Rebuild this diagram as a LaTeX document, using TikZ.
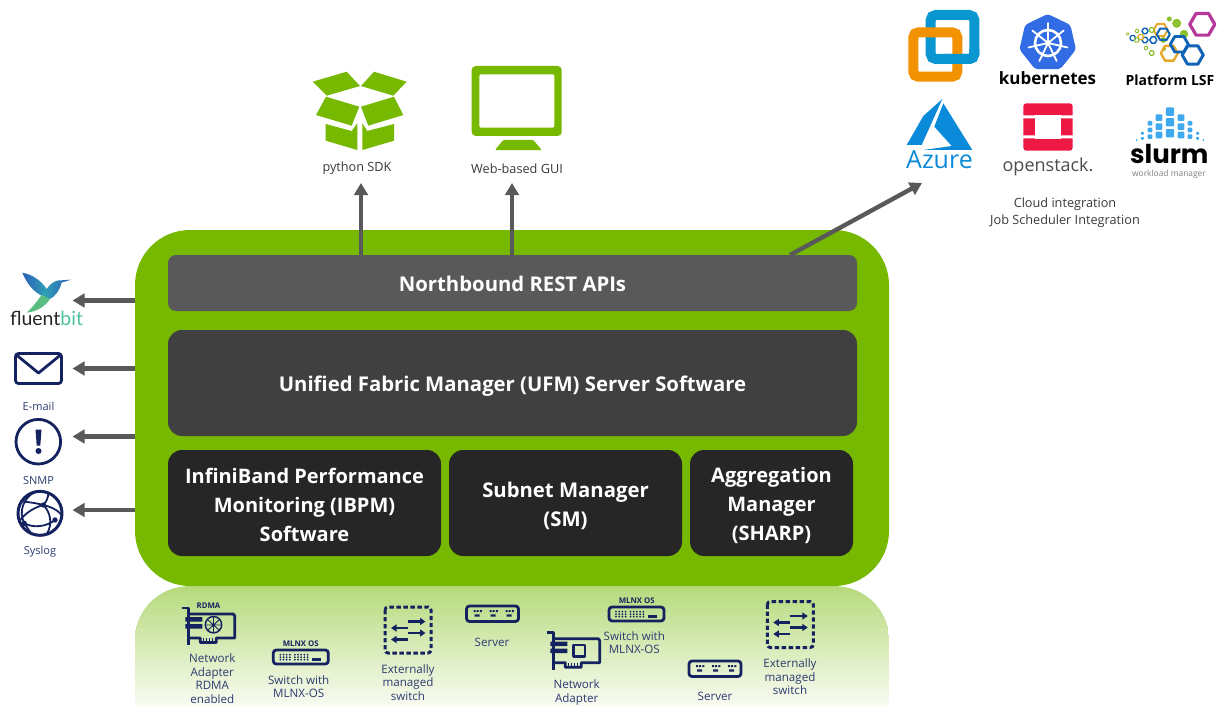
\documentclass[tikz,border=0pt]{standalone}
\usepackage{fontspec}
\setmainfont{Open Sans}
\newfontfamily\lato{Lato}
\newfontfamily\pop{Poppins}
\usetikzlibrary{arrows.meta,calc}
\definecolor{nvgreen}{HTML}{76B900}
\definecolor{trayA}{HTML}{B6DA7C}
\definecolor{trayB}{HTML}{F8FBF1}
\definecolor{apigray}{HTML}{595959}
\definecolor{ufmgray}{HTML}{404040}
\definecolor{lowgray}{HTML}{262626}
\definecolor{navy}{HTML}{14235F}
\definecolor{navytxt}{HTML}{2C3A70}
\definecolor{txtgray}{HTML}{3A3A3A}
\definecolor{slblue}{HTML}{3FA9EE}
\definecolor{azblue}{HTML}{0A8AD8}
\definecolor{vmblue}{HTML}{0A96D0}
\definecolor{vmorange}{HTML}{F39200}
\definecolor{k8sblue}{HTML}{326CE5}
\definecolor{osred}{HTML}{ED1944}
\definecolor{lsfmag}{HTML}{B5379A}
\definecolor{lsfblue}{HTML}{0F62B5}
\definecolor{lsfgold}{HTML}{E8A92B}
\definecolor{lsfgreen}{HTML}{8DBF2E}
\definecolor{birdblue}{HTML}{2E5FB8}
\definecolor{birdteal}{HTML}{2FA3B5}
\definecolor{birdgreen}{HTML}{6CC96C}
\definecolor{bitteal}{HTML}{4FC3A1}
\tikzset{
  panelbox/.style={rounded corners=#1,inner sep=0pt},
  paneltext/.style={align=center,text=white,inner sep=0pt,font=\fontsize{20.3}{29}\selectfont\bfseries},
  arr/.style={draw=apigray,line width=4.4pt,-{Triangle[length=12pt,width=13.5pt]}},
  lowlabel/.style={text=navytxt,align=center,inner sep=0pt,font=\fontsize{11.6}{13.4}\selectfont},
  toplabel/.style={text=txtgray,align=center,inner sep=0pt,font=\fontsize{12.7}{17}\selectfont},
  icon/.style={draw=navy,line width=2.8pt,line join=round},
  tinytag/.style={text=navy,inner sep=0pt,font=\fontsize{7.8}{8}\selectfont\bfseries},
  xarrow/.style={draw=navy,line width=2.4pt,-{Triangle[length=5.5pt,width=7pt]}}
}
\newcommand\hexa[5]{\draw[draw=#4,line width=#5,line join=round] (#1,#2) +(0:#3) -- +(60:#3) -- +(120:#3) -- +(180:#3) -- +(240:#3) -- +(300:#3) -- cycle;}
\newcommand\swicon[2]{\begin{scope}[shift={(#1,#2)}]
  \draw[icon,rounded corners=3pt] (0,0) rectangle (55,14);
  \foreach \dx in {7,10.2,13.4,16.6,21.5,24.7,27.9,31.1,34.3}{\fill[navy] (\dx,4.7) circle (1) (\dx,7.2) circle (1) (\dx,9.7) circle (1);}
  \fill[navy] (39,8) rectangle (48,10.5);
\end{scope}}
\newcommand\svicon[2]{\begin{scope}[shift={(#1,#2)}]
  \draw[icon,rounded corners=3pt] (0,0) rectangle (52,15.5);
  \foreach \dx in {7,23,39}{\fill[navy] (\dx,4) rectangle +(2,2.2) (\dx+3.2,4) rectangle +(2,2.2) (\dx+6.4,4) rectangle +(2,2.2) (\dx+1,8.3) rectangle +(5,2.2);}
\end{scope}}
\newcommand\exicon[2]{\begin{scope}[shift={(#1,#2)}]
  \draw[icon,line width=3pt,rounded corners=3pt,dash pattern=on 4.4pt off 2.6pt] (0,0) rectangle (46,46);
  \draw[xarrow] (23,14.5) -- (40.5,14.5);
  \draw[xarrow] (23,21) -- (6,21);
  \draw[xarrow] (23,26) -- (40.5,26);
  \draw[xarrow] (23,32.5) -- (6,32.5);
\end{scope}}
\newcommand\cardicon[2]{\begin{scope}[shift={(#1,#2)}]
  \draw[icon] (-6.5,0) -- (0,0) -- (0,37);
  \draw[icon] (0,6) -- (45,6) -- (46.5,8) -- (46.5,30) -- (28,30) -- (28,34.5) -- (12,34.5) -- (12,30) -- (0,30);
  \fill[navy] (-3,9) rectangle (14,13.5) (-3,16) rectangle (14,20.5);
  \foreach \dx in {15,18,21,24}{\draw[navy,line width=1.2pt] (\dx,30) -- (\dx,34);}
\end{scope}}
\begin{document}
\begin{tikzpicture}[x=1pt,y=-1pt]
\useasboundingbox (0,0) rectangle (1223,706);
\fill[white] (0,0) rectangle (1223,706);
% fading tray: stacked bands, each running to the bottom edge
\begin{scope}
\clip (135,706) -- (135,641) .. controls (135,610.6) and (159.6,586) .. (190,586) -- (834,586) .. controls (864.4,586) and (889,610.6) .. (889,641) -- (889,706) -- cycle;
\foreach \i in {0,...,59}{
  \pgfmathsetmacro\mixp{100-\i*100/59}
  \fill[trayA!\mixp!trayB] (135,586+2*\i) rectangle (889,706);
}
\end{scope}
% main panel
\node[panelbox=55pt,fill=nvgreen,minimum width=754pt,minimum height=356pt] (panel) at (512,408) {};
\node[panelbox=8pt,fill=apigray,minimum width=689pt,minimum height=56pt,
  label={[paneltext,name=apitext,yshift=-1pt]center:Northbound REST APIs}] (api) at (512.5,283) {};
\node[panelbox=14pt,fill=ufmgray,minimum width=689pt,minimum height=106pt,
  label={[paneltext,name=ufmtext,yshift=-3.5pt]center:Unified Fabric Manager (UFM) Server Software}] (ufm) at (512.5,383) {};
\node[panelbox=14pt,fill=lowgray,minimum width=273pt,minimum height=106pt,
  label={[paneltext,name=ibpmtext,yshift=-2pt,font=\fontsize{20}{29}\selectfont\bfseries]center:InfiniBand Performance\\Monitoring (IBPM)\\Software}] (ibpm) at (304.5,503) {};
\node[panelbox=14pt,fill=lowgray,minimum width=233pt,minimum height=106pt,
  label={[paneltext,name=smtext,yshift=-2.5pt]center:Subnet Manager\\(SM)}] (sm) at (565.5,503) {};
\node[panelbox=14pt,fill=lowgray,minimum width=163pt,minimum height=106pt,
  label={[paneltext,name=aggtext,yshift=-2pt,font=\fontsize{20}{29}\selectfont\bfseries]center:Aggregation\\Manager\\(SHARP)}] (agg) at (771.5,503) {};
% arrow ends
\coordinate (pyend) at (361,183);
\coordinate (webend) at (512,183);
\coordinate (cloudend) at (922,183);
\coordinate (apiright) at (790,255);
\coordinate (fluentend) at (72.5,300.5);
\coordinate (mailend) at (72.5,368.5);
\coordinate (snmpend) at (72.5,436.5);
\coordinate (sysend) at (72.5,510);
\draw[arr] (api.north -| pyend) -- (pyend);
\draw[arr] (api.north -| webend) -- (webend);
\draw[arr] (apiright) -- (cloudend);
\draw[arr] (panel.west |- fluentend) -- (fluentend);
\draw[arr] (panel.west |- mailend) -- (mailend);
\draw[arr] (panel.west |- snmpend) -- (snmpend);
\draw[arr] (panel.west |- sysend) -- (sysend);
% python box
\fill[nvgreen] (312.7,81.7) -- (346.7,71.7) -- (360,86) -- (326.7,95.7) -- cycle;
\fill[nvgreen] (361,86) -- (374,71.7) -- (406.7,81.7) -- (393.3,95.7) -- cycle;
\fill[nvgreen] (326,96.7) -- (359.3,106.7) -- (351.7,125.7) -- (316,115) -- cycle;
\fill[nvgreen] (361,106.7) -- (394,96.7) -- (403.3,115) -- (368.3,125.7) -- cycle;
\fill[nvgreen] (325.7,124) -- (351.7,131) -- (357.3,123.3) -- (357.3,150) -- (325.7,140.7) -- cycle;
\fill[nvgreen] (362.3,123.3) -- (367.3,131) -- (394,124) -- (394,140.7) -- (362.3,150) -- cycle;
\node[toplabel] (pylabel) at (357,168.5) {python SDK};
% monitor
\fill[nvgreen,rounded corners=4pt] (471.7,66) rectangle (561.7,136);
\fill[white,rounded corners=1.5pt] (479.3,74.3) rectangle (554.3,127.7);
\fill[nvgreen,rounded corners=1pt] (495,150) -- (503.3,140) -- (533.3,140) -- (541.7,150) -- cycle;
\node[toplabel] (weblabel) at (517,168.5) {Web-based GUI};
% vmware
\draw[draw=vmblue,line width=10pt,rounded corners=5pt] (930.7,15) rectangle (974.3,59);
\draw[draw=vmorange,line width=10pt,rounded corners=5pt] (913.3,32.3) rectangle (957.3,76.7);
\begin{scope}
\clip (945,50) rectangle (985,70);
\draw[draw=vmblue,line width=10pt,rounded corners=5pt] (930.7,15) rectangle (974.3,59);
\end{scope}
% kubernetes
\fill[k8sblue,rounded corners=3pt] (1047.7,43) +(-90:29) -- +(-38.6:29) -- +(12.9:29) -- +(64.3:29) -- +(115.7:29) -- +(167.1:29) -- +(218.6:29) -- cycle;
\draw[white,line width=2.6pt] (1048,43) circle (13);
\fill[white] (1048,43) circle (2.8);
\foreach \a in {-90,-38.6,12.9,64.3,115.7,167.1,218.6}{\draw[white,line width=1.8pt,line cap=round] (1048,43) -- +(\a:20);}
\node[inner sep=0pt,text=black,font=\fontsize{17}{20}\selectfont\bfseries] (k8s) at (1047.5,78) {kubernetes};
% LSF
\hexa{1202.3}{24.3}{12.5}{lsfmag}{3.2pt}
\fill[lsfgreen] (1176.7,23.3) circle (4.5) (1169.3,19) circle (2.5) (1184,34) circle (4.2) (1163.3,40) circle (3) (1164,49) circle (2);
\hexa{1160.7}{30}{7}{lsfgold}{2pt}
\hexa{1163.3}{34.3}{6.5}{lsfblue}{2pt}
\hexa{1169.3}{53.3}{8.5}{lsfgold}{2.4pt}
\hexa{1179.3}{44.3}{9}{lsfblue}{2.8pt}
\hexa{1192.7}{55}{10.5}{lsfblue}{3pt}
\hexa{1153.3}{40}{3.5}{lsfblue}{1.5pt}
\hexa{1151.7}{30}{2.5}{lsfgreen}{1.2pt}
\hexa{1145}{31}{3}{lsfblue}{1.4pt}
\hexa{1145}{40}{3}{lsfblue}{1.4pt}
\hexa{1140.7}{37}{3}{lsfgold}{1.3pt}
\hexa{1132.7}{38}{2.8}{lsfblue}{1.3pt}
\hexa{1136.7}{40}{2.5}{lsfgreen}{1.1pt}
\hexa{1137}{31}{1.8}{lsfgreen}{0.9pt}
\hexa{1151.7}{53}{2.5}{lsfgreen}{1.2pt}
\hexa{1146}{48}{1.8}{lsfgreen}{1pt}
\hexa{1127.5}{34}{1.2}{lsfgreen}{0.8pt}
\node[inner sep=0pt,text=black,font=\fontsize{14}{16}\selectfont\bfseries] (lsf) at (1170,80.5) {Platform LSF};
% Azure
\begin{scope}[shift={(880,0)},x=0.3333pt,y=-0.3333pt]
\fill[azblue] (187,297) -- (130,348) -- (80,435) -- (125,435) -- cycle;
\fill[azblue] (190,310) -- (163,380) -- (215,438) -- (130,450) -- (277,450) -- cycle;
\end{scope}
\node[inner sep=0pt,text=azblue,font=\fontsize{25}{28}\selectfont] (azure) at (939.5,160) {Azure};
% openstack
\fill[osred,rounded corners=3pt] (1023.3,103.3) rectangle (1072.7,150.7);
\fill[white] (1035,115) rectangle (1061,139);
\fill[white] (1023,115.5) rectangle (1036,118.5) (1060,115.5) rectangle (1073,118.5) (1023,135.5) rectangle (1036,138.5) (1060,135.5) rectangle (1073,138.5);
\node[inner sep=0pt,text=black!70,font=\fontsize{18}{20}\selectfont] (ostack) at (1048,167) {openstack.};
% slurm
\begin{scope}[shift={(1010,95)},x=0.3333pt,y=-0.3333pt]
\foreach \c/\s/\ys in {480/25/{50,82,115},447/20/{68,95,120},513/20/{68,95,120},420/14/{85,105,125},540/14/{85,105,125},397/9/{115,130},563/9/{115,130},380/6/{135},580/6/{135}}{
  \foreach \yy in \ys {\fill[slblue,rounded corners=1pt] (\c-\s/2,\yy-\s/2) rectangle (\c+\s/2,\yy+\s/2);}
}
\end{scope}
\node[inner sep=0pt,text height=19pt,text depth=0pt,text=black,font=\pop\fontsize{26}{28}\selectfont\bfseries] (slurmtxt) at (1169.3,154.5) {slurm};
\node[inner sep=0pt,text height=6pt,text depth=1.5pt,text=black!50,font=\fontsize{8.4}{9}\selectfont] (slurmsub) at (1169,174) {workload manager};
\node[toplabel] (cloudlabel) at (1065,213) {Cloud integration\\Job Scheduler Integration};
% fluentbit bird
\begin{scope}[shift={(5,265)},x=0.3333pt,y=-0.3333pt]
\shade[left color=birdblue,right color=birdteal] (52,23) .. controls (90,30) and (115,55) .. (127,75) -- (110,92) .. controls (85,80) and (65,55) .. (52,23) -- cycle;
\shade[left color=birdteal,right color=birdblue] (122,75) .. controls (135,60) and (145,45) .. (168,46) -- (198,44) -- (170,53) .. controls (165,75) and (150,95) .. (135,102) -- (112,92) -- cycle;
\fill[birdgreen!70!birdteal] (110,90) -- (135,102) .. controls (120,125) and (95,140) .. (65,143) .. controls (85,125) and (95,110) .. (110,90) -- cycle;
\end{scope}
\node[inner sep=0pt,font=\lato\fontsize{19.5}{21}\selectfont] (fluent) at (46.5,318.5) {\textcolor{black!85}{fluent}\textcolor{bitteal}{bit}};
% envelope
\draw[icon,rounded corners=3pt] (15.5,353.5) rectangle (61.5,383.5);
\draw[icon] (16.5,355) -- (38.5,373) -- (60.5,355);
\node[lowlabel,font=\fontsize{11}{13}\selectfont] (maillabel) at (38.5,406.5) {E-mail};
% snmp
\draw[icon] (38.3,441.7) circle (22.3);
\fill[navy] (35.5,429.5) -- (41.5,429.5) -- (40.3,445.5) -- (36.7,445.5) -- cycle;
\fill[navy] (38.5,451) circle (3);
\node[lowlabel,font=\fontsize{11}{13}\selectfont] (snmplabel) at (38.5,480.5) {SNMP};
% syslog
\begin{scope}[shift={(5,485)},x=0.3333pt,y=-0.3333pt]
\draw[icon,line width=3pt] (105,85) circle (66);
\draw[icon,line width=1.8pt] (55,50) .. controls (80,52) and (95,55) .. (115,60) .. controls (135,65) and (155,72) .. (168,88);
\draw[icon,line width=1.8pt] (42,110) .. controls (60,85) and (85,68) .. (115,60) .. controls (125,50) and (130,35) .. (130,25);
\draw[icon,line width=1.8pt] (58,115) .. controls (85,130) and (125,125) .. (150,105);
\draw[icon,line width=1.8pt] (88,22) .. controls (55,40) and (40,80) .. (58,115) -- (80,148);
\draw[icon,line width=1.8pt] (115,60) .. controls (135,80) and (145,115) .. (125,148);
\fill[navy] (115,60) circle (8) (58,115) circle (8) (150,105) circle (8);
\end{scope}
\node[lowlabel,font=\fontsize{11}{13}\selectfont] (syslabel) at (40,551.5) {Syslog};
% tray icons
\cardicon{188.3}{608}
\node[tinytag] (rdmatag) at (208.5,605.5) {RDMA};
\draw[icon,line width=1.5pt] (213.5,624.7) circle (8.2);
\draw[navy,line width=0.9pt] (213.5,617) -- (213.5,633) (206,625) -- (221,625) (208,620) -- (219,630) (219,620) -- (208,630);
\node[lowlabel] (l1) at (212.3,678.7) {Network\\Adapter\\RDMA\\enabled};
\swicon{273.3}{650}
\node[tinytag] (t1) at (300.7,643.5) {MLNX OS};
\node[lowlabel] (l2) at (298.7,686.7) {Switch with\\MLNX-OS};
\exicon{385}{607}
\node[lowlabel] (l3) at (408,682.3) {Externally\\managed\\switch};
\svicon{466.5}{606}
\node[lowlabel] (l4) at (492,642) {Server};
\cardicon{553.3}{632.7}
\draw[icon,line width=2.4pt] (573.5,645) rectangle (585,656.5);
\node[lowlabel] (l5) at (576.7,692.3) {Network\\Adapter};
\swicon{609}{607}
\node[tinytag] (t2) at (636.7,600.5) {MLNX OS};
\node[lowlabel] (l6) at (634.3,642.7) {Switch with\\MLNX-OS};
\svicon{689}{661}
\node[lowlabel] (l7) at (715,696.7) {Server};
\exicon{767.3}{601.5}
\node[lowlabel] (l8) at (790,676.7) {Externally\\managed\\switch};
\end{tikzpicture}
\end{document}
